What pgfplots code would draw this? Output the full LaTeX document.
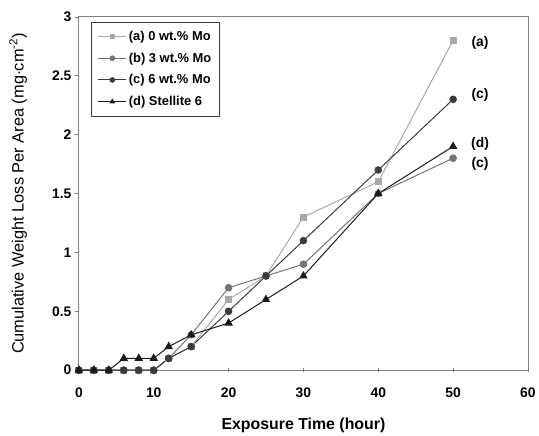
\documentclass[border=0pt]{standalone}
\usepackage{fontspec}
\setmainfont{Liberation Sans}
\usepackage{pgfplots}
\pgfplotsset{compat=1.18}
\definecolor{ca}{HTML}{A8A8A8}
\definecolor{cb}{HTML}{747474}
\definecolor{cc}{HTML}{3C3C3C}
\definecolor{cd}{HTML}{1A1A1A}
\definecolor{axgray}{HTML}{808080}
\begin{document}
\begin{tikzpicture}
\begin{axis}[
  scale only axis,
  width=452.5pt, height=356pt,
  xmin=0, xmax=60, ymin=0, ymax=3,
  xtick={0,10,20,30,40,50,60},
  ytick={0,0.5,1,1.5,2,2.5,3},
  yticklabels={0,0.5,1,1.5,2,2.5,3},
  /pgf/number format/assume math mode=true,
  tick label style={font=\fontsize{14}{16}\selectfont\bfseries},
  xticklabel style={yshift=-14pt},
  yticklabel style={xshift=-4pt},
  axis line style={axgray, line width=0.8pt},
  tick style={axgray, line width=0.6pt},
  major tick length=4pt,
  xtick pos=bottom, ytick pos=left,
  x tick style={/pgfplots/tick align=center},
  y tick style={/pgfplots/tick align=outside},
  xlabel={Exposure Time (hour)},
  ylabel={Cumulative Weight Loss Per Area (mg$\cdot$cm\textsuperscript{-2})},
  xlabel style={font=\fontsize{16}{18}\selectfont\bfseries, at={(axis description cs:0.5,-0.155)}, anchor=center},
  ylabel style={font=\fontsize{16.5}{18}\selectfont, at={(axis description cs:-0.135,0.5)}, anchor=center},
  legend style={at={(axis description cs:0.028,0.986)}, anchor=north west,
    draw=cc, line width=0.6pt, font=\fontsize{13}{14}\selectfont\bfseries,
    row sep=7pt, inner xsep=6pt, inner ysep=7pt, cells={anchor=west}},
  legend image code/.code={
    \draw[mark repeat=2,mark phase=2, mark size=2.3pt] plot coordinates {(0cm,0cm) (0.5cm,0cm) (1cm,0cm)};},
  clip=false,
]
\addplot[ca, line width=1pt, mark=square*, mark size=3pt, mark options={solid, fill=ca, draw=ca}] coordinates {
 (0,0) (2,0) (4,0) (6,0) (8,0) (10,0) (12,0.1) (15,0.2) (20,0.6) (25,0.8) (30,1.3) (40,1.6) (50,2.8)};
\addlegendentry{(a) 0 wt.\% Mo}
\addplot[cb, line width=1pt, mark=*, mark size=3.3pt, mark options={solid, fill=cb, draw=cb}] coordinates {
 (0,0) (2,0) (4,0) (6,0) (8,0) (10,0) (12,0.1) (15,0.3) (20,0.7) (25,0.8) (30,0.9) (40,1.5) (50,1.8)};
\addlegendentry{(b) 3 wt.\% Mo}
\addplot[cc, line width=1pt, mark=*, mark size=3.3pt, mark options={solid, fill=cc, draw=cc}] coordinates {
 (0,0) (2,0) (4,0) (6,0) (8,0) (10,0) (12,0.1) (15,0.2) (20,0.5) (25,0.8) (30,1.1) (40,1.7) (50,2.3)};
\addlegendentry{(c) 6 wt.\% Mo}
\addplot[cd, line width=1pt, mark=triangle*, mark size=4pt, mark options={solid, fill=cd, draw=cd}] coordinates {
 (0,0) (2,0) (4,0) (6,0.1) (8,0.1) (10,0.1) (12,0.2) (15,0.3) (20,0.4) (25,0.6) (30,0.8) (40,1.5) (50,1.9)};
\addlegendentry{(d) Stellite 6}
\node[font=\fontsize{14}{16}\selectfont\bfseries] at (axis cs:53.6,2.78) {(a)};
\node[font=\fontsize{14}{16}\selectfont\bfseries] at (axis cs:53.6,2.34) {(c)};
\node[font=\fontsize{14}{16}\selectfont\bfseries] at (axis cs:53.6,1.92) {(d)};
\node[font=\fontsize{14}{16}\selectfont\bfseries] at (axis cs:53.6,1.75) {(c)};
\end{axis}
\path ([shift={(-79.5pt,-63pt)}]current axis.south west) rectangle ([shift={(7pt,17pt)}]current axis.north east);
\end{tikzpicture}
\end{document}
